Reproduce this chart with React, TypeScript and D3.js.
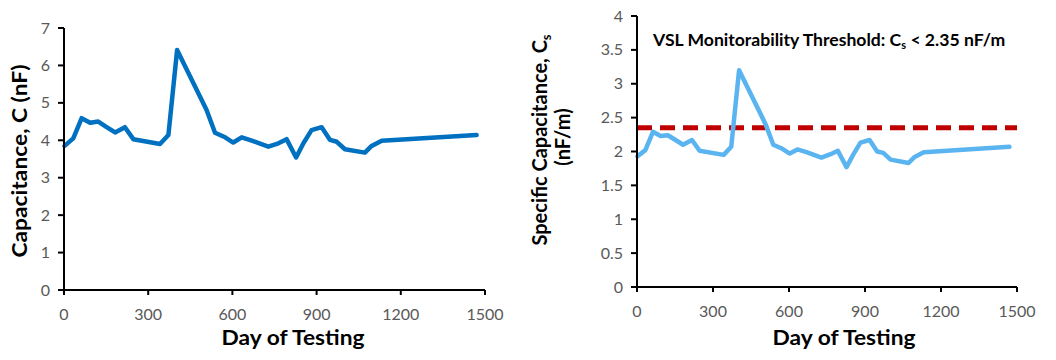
import * as d3 from 'd3';

// ─── Data ───────────────────────────────────────────────────

const days = [2, 33, 63, 93, 122, 152, 182, 217, 247, 342, 372, 403, 508, 538, 574, 603, 633, 669, 728, 764, 793, 827, 853, 882, 918, 948, 972, 1001, 1072, 1096, 1132, 1470];
const capacitance = [3.85, 4.05, 4.59, 4.47, 4.5, 4.35, 4.21, 4.35, 4.03, 3.9, 4.14, 6.41, 4.81, 4.2, 4.08, 3.94, 4.08, 3.99, 3.83, 3.92, 4.03, 3.54, 3.92, 4.27, 4.35, 4.01, 3.96, 3.76, 3.67, 3.85, 3.99, 4.14];
const specificCap = [1.93, 2.02, 2.29, 2.23, 2.24, 2.17, 2.1, 2.17, 2.01, 1.95, 2.07, 3.2, 2.4, 2.1, 2.04, 1.97, 2.03, 1.99, 1.91, 1.96, 2.01, 1.77, 1.95, 2.13, 2.17, 2.0, 1.98, 1.88, 1.83, 1.92, 1.99, 2.07];
const threshold = 2.35;

const xTicks = [0, 300, 600, 900, 1200, 1500];
const leftYTicks = [0, 1, 2, 3, 4, 5, 6, 7];
const rightYTicks = [0, 0.5, 1, 1.5, 2, 2.5, 3, 3.5, 4];

const FONT = 'Lato, "Open Sans", sans-serif';
const TICK_COLOR = '#595959';

// ─── Panel ──────────────────────────────────────────────────

interface PanelProps {
  x0: number;
  x1: number;
  y0: number;
  y1: number;
  yMax: number;
  yTicks: number[];
  values: number[];
  color: string;
}

function Panel({ x0, x1, y0, y1, yMax, yTicks, values, color }: PanelProps) {
  const x = d3.scaleLinear().domain([0, 1500]).range([x0, x1]);
  const y = d3.scaleLinear().domain([0, yMax]).range([y0, y1]);
  const line = d3.line<number>()
    .x((_, i) => x(days[i]))
    .y((d) => y(d));

  return (
    <g>
      <path d={line(values) ?? ''} fill="none" stroke={color} strokeWidth={4.5}
        strokeLinejoin="round" strokeLinecap="round" />
      {/* axes */}
      <line x1={x0} x2={x0} y1={y(yMax)} y2={y0} stroke="#000" strokeWidth={2} />
      <line x1={x0 - 6} x2={x1} y1={y0} y2={y0} stroke="#000" strokeWidth={2} />
      {yTicks.map((t) => (
        <g key={'y' + t}>
          <line x1={x0 - 6} x2={x0} y1={y(t)} y2={y(t)} stroke="#000" strokeWidth={2} />
          <text x={x0 - 14} y={y(t)} dy="0.35em" textAnchor="end" fontSize={16}
            fill={TICK_COLOR} fontFamily={FONT}>{String(t)}</text>
        </g>
      ))}
      {xTicks.map((t) => (
        <g key={'x' + t}>
          <line x1={x(t)} x2={x(t)} y1={y0} y2={y0 + 5} stroke="#000" strokeWidth={2} />
          <text x={x(t)} y={y0 + 30} textAnchor="middle" fontSize={16}
            fill={TICK_COLOR} fontFamily={FONT}>{t}</text>
        </g>
      ))}
    </g>
  );
}

// ─── App ────────────────────────────────────────────────────

export default function App() {
  const yr = d3.scaleLinear().domain([0, 4]).range([287, 16]);
  const xr = d3.scaleLinear().domain([0, 1500]).range([637, 1017]);

  return (
    <div style={{ position: 'absolute', left: 0, top: 0 }}>
      <svg width={1056} height={360} style={{ display: 'block', background: '#fff' }}>
        {/* Left: capacitance */}
        <Panel x0={64} x1={485} y0={290} y1={28} yMax={7} yTicks={leftYTicks}
          values={capacitance} color="#0070C0" />
        <text transform="translate(27,161) rotate(-90)" textAnchor="middle" fontSize={20}
          fontWeight={700} fontFamily={FONT} fill="#000" textLength={193}
          lengthAdjust="spacingAndGlyphs">Capacitance, C (nF)</text>
        <text x={293} y={345} textAnchor="middle" fontSize={20} fontWeight={700}
          fontFamily={FONT} fill="#000" textLength={143} lengthAdjust="spacingAndGlyphs">
          Day of Testing</text>

        {/* Right: specific capacitance */}
        <line x1={xr(0)} x2={xr(1500)} y1={yr(threshold)} y2={yr(threshold)}
          stroke="#C00000" strokeWidth={5} strokeDasharray="15,8" />
        <Panel x0={637} x1={1017} y0={287} y1={16} yMax={4} yTicks={rightYTicks}
          values={specificCap} color="#5AB4F0" />
        <text transform="translate(547,140) rotate(-90)" textAnchor="middle" fontSize={20}
          fontWeight={700} fontFamily={FONT} fill="#000">
          Specific Capacitance, C<tspan fontSize={13} dy={4}>s</tspan>
        </text>
        <text transform="translate(570,137) rotate(-90)" textAnchor="middle" fontSize={20}
          fontWeight={700} fontFamily={FONT} fill="#000">(nF/m)</text>
        <text x={844} y={345} textAnchor="middle" fontSize={20} fontWeight={700}
          fontFamily={FONT} fill="#000" textLength={143} lengthAdjust="spacingAndGlyphs">
          Day of Testing</text>

        <text x={653} y={46} fontSize={17.6} fontWeight={700} fontFamily={FONT} fill="#000">
          VSL Monitorability Threshold: C<tspan fontSize={11} dy={3}>s</tspan>
          <tspan dy={-3}> &lt; 2.35 nF/m</tspan>
        </text>
      </svg>
    </div>
  );
}
